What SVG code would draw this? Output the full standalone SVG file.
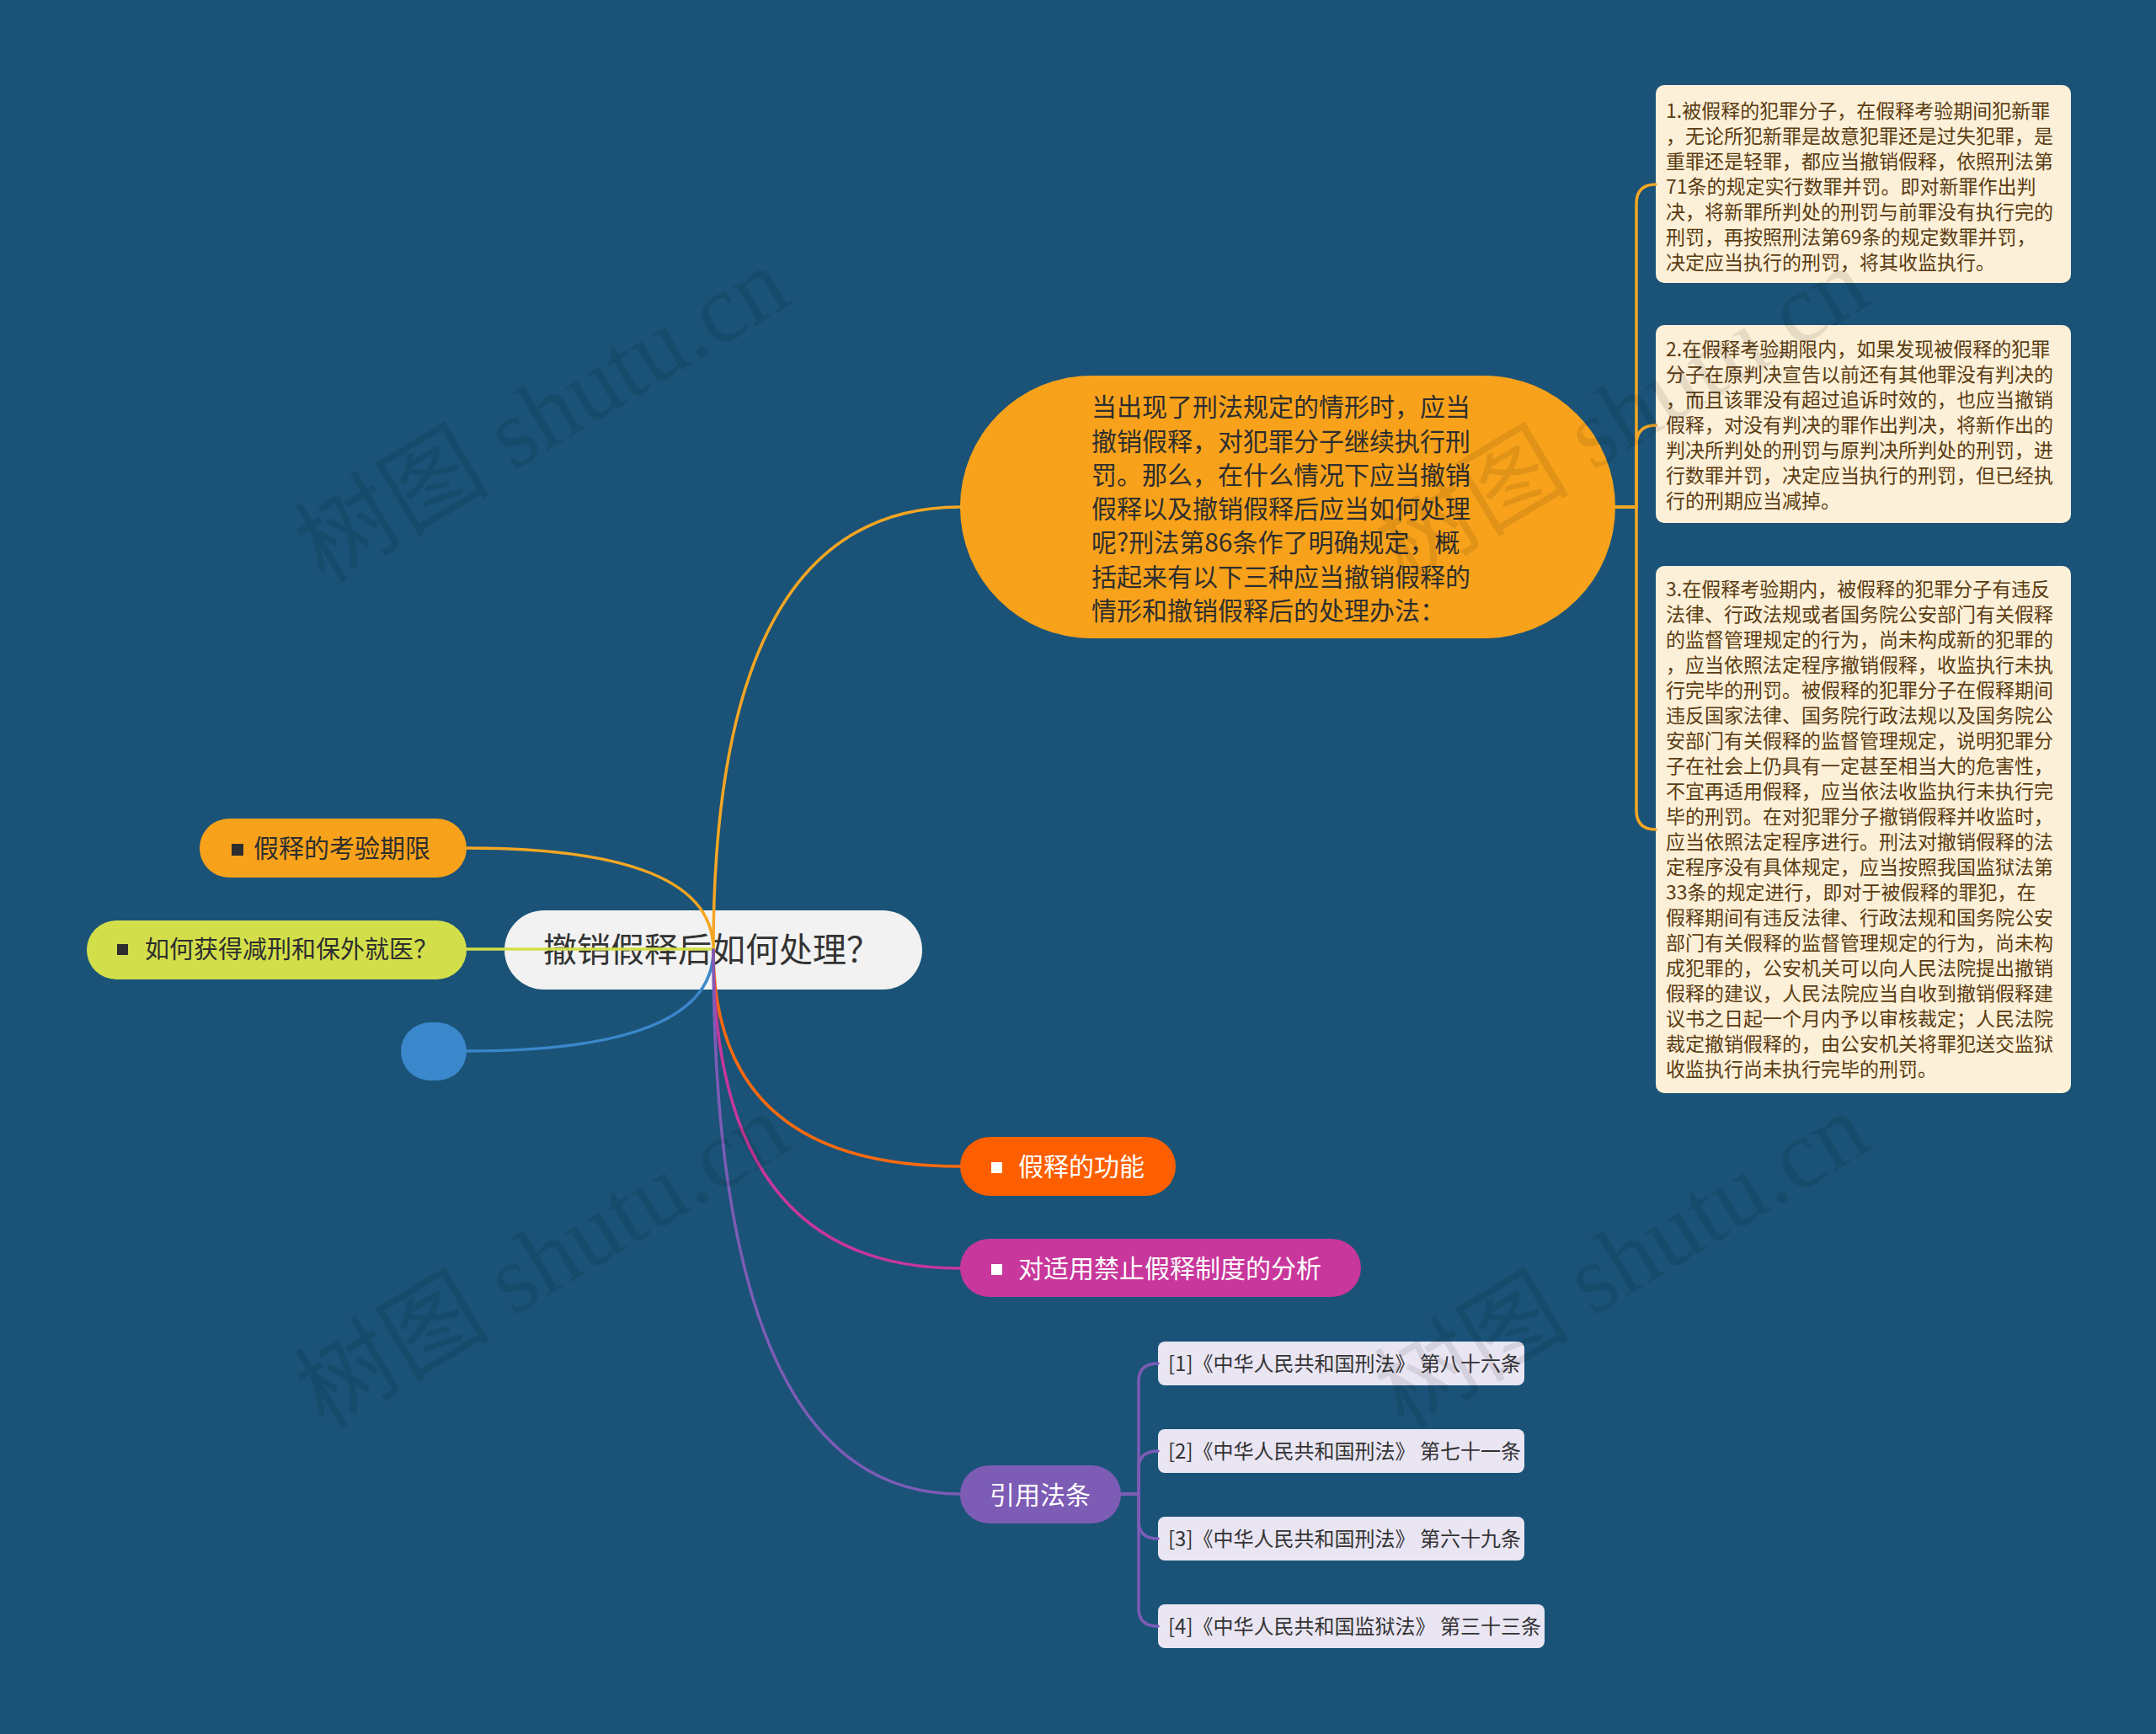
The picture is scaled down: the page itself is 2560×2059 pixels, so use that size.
<svg xmlns="http://www.w3.org/2000/svg" width="2560" height="2059" viewBox="0 0 2560 2059">
<style>
text{font-family:"Noto Sans CJK SC","Noto Sans",sans-serif}
.lnk{fill:none;stroke-width:3.5;stroke-linecap:round}
.dark{fill:#2e2e2e}
.white{fill:#ffffff}
.note{fill:#fdf0d8}
.notetxt{fill:#5a3c12;font-size:23px}
.ref{fill:#e9e5f3}
.reftxt{fill:#333333;font-size:24px}
.lbl{font-size:30px}
.wm{font-family:"Liberation Serif","Noto Sans CJK SC",serif;font-size:116px;fill:#000;fill-opacity:0.09}
</style>
<rect x="0" y="0" width="2560" height="2059" fill="#1a5377"/>

<g id="root">
<rect x="599" y="1081" width="496" height="94" rx="47" fill="#f2f2f2"/>
<text x="645" y="1142" font-size="40" fill="#333333">撤销假释后如何处理？</text>
</g>

<g id="n-intro">
<rect x="1140" y="446" width="778" height="312" rx="156" fill="#f8a21b"/>
<g font-size="30" class="dark">
<text x="1296" y="494">当出现了刑法规定的情形时，应当</text>
<text x="1296" y="535">撤销假释，对犯罪分子继续执行刑</text>
<text x="1296" y="575">罚。那么，在什么情况下应当撤销</text>
<text x="1296" y="615">假释以及撤销假释后应当如何处理</text>
<text x="1296" y="655">呢?刑法第86条作了明确规定，概</text>
<text x="1296" y="696">括起来有以下三种应当撤销假释的</text>
<text x="1296" y="736">情形和撤销假释后的处理办法：</text>
</g>
</g>

<g id="n-note1">
<rect x="1966" y="101" width="493" height="235" rx="10" class="note"/>
<g class="notetxt">
<text x="1978" y="140">1.被假释的犯罪分子，在假释考验期间犯新罪</text>
<text x="1978" y="170">，无论所犯新罪是故意犯罪还是过失犯罪，是</text>
<text x="1978" y="200">重罪还是轻罪，都应当撤销假释，依照刑法第</text>
<text x="1978" y="230">71条的规定实行数罪并罚。即对新罪作出判</text>
<text x="1978" y="260">决，将新罪所判处的刑罚与前罪没有执行完的</text>
<text x="1978" y="290">刑罚，再按照刑法第69条的规定数罪并罚，</text>
<text x="1978" y="320">决定应当执行的刑罚，将其收监执行。</text>
</g>
</g>

<g id="n-note2">
<rect x="1966" y="386" width="493" height="235" rx="10" class="note"/>
<g class="notetxt">
<text x="1978" y="423">2.在假释考验期限内，如果发现被假释的犯罪</text>
<text x="1978" y="453">分子在原判决宣告以前还有其他罪没有判决的</text>
<text x="1978" y="483">，而且该罪没有超过追诉时效的，也应当撤销</text>
<text x="1978" y="513">假释，对没有判决的罪作出判决，将新作出的</text>
<text x="1978" y="543">判决所判处的刑罚与原判决所判处的刑罚，进</text>
<text x="1978" y="573">行数罪并罚，决定应当执行的刑罚，但已经执</text>
<text x="1978" y="603">行的刑期应当减掉。</text>
</g>
</g>

<g id="n-note3">
<rect x="1966" y="672" width="493" height="626" rx="10" class="note"/>
<g class="notetxt">
<text x="1978" y="708">3.在假释考验期内，被假释的犯罪分子有违反</text>
<text x="1978" y="738">法律、行政法规或者国务院公安部门有关假释</text>
<text x="1978" y="768">的监督管理规定的行为，尚未构成新的犯罪的</text>
<text x="1978" y="798">，应当依照法定程序撤销假释，收监执行未执</text>
<text x="1978" y="828">行完毕的刑罚。被假释的犯罪分子在假释期间</text>
<text x="1978" y="858">违反国家法律、国务院行政法规以及国务院公</text>
<text x="1978" y="888">安部门有关假释的监督管理规定，说明犯罪分</text>
<text x="1978" y="918">子在社会上仍具有一定甚至相当大的危害性，</text>
<text x="1978" y="948">不宜再适用假释，应当依法收监执行未执行完</text>
<text x="1978" y="978">毕的刑罚。在对犯罪分子撤销假释并收监时，</text>
<text x="1978" y="1008">应当依照法定程序进行。刑法对撤销假释的法</text>
<text x="1978" y="1038">定程序没有具体规定，应当按照我国监狱法第</text>
<text x="1978" y="1068">33条的规定进行，即对于被假释的罪犯，在</text>
<text x="1978" y="1098">假释期间有违反法律、行政法规和国务院公安</text>
<text x="1978" y="1128">部门有关假释的监督管理规定的行为，尚未构</text>
<text x="1978" y="1158">成犯罪的，公安机关可以向人民法院提出撤销</text>
<text x="1978" y="1188">假释的建议，人民法院应当自收到撤销假释建</text>
<text x="1978" y="1218">议书之日起一个月内予以审核裁定；人民法院</text>
<text x="1978" y="1248">裁定撤销假释的，由公安机关将罪犯送交监狱</text>
<text x="1978" y="1278">收监执行尚未执行完毕的刑罚。</text>
</g>
</g>

<g id="n-function">
<rect x="1140" y="1350" width="256" height="70" rx="35" fill="#fd5f00"/>
<rect x="1177" y="1380" width="13" height="13" class="white"/>
<text x="1209" y="1396" class="lbl white">假释的功能</text>
</g>

<g id="n-analysis">
<rect x="1140" y="1471" width="476" height="69" rx="34.5" fill="#c8379b"/>
<rect x="1177" y="1501" width="13" height="13" class="white"/>
<text x="1209" y="1517" class="lbl white">对适用禁止假释制度的分析</text>
</g>

<g id="n-laws">
<rect x="1140" y="1740" width="191" height="69" rx="34.5" fill="#7d5cb6"/>
<text x="1235" y="1786" class="lbl white" text-anchor="middle">引用法条</text>
</g>

<g id="n-law1">
<rect x="1375" y="1593" width="435" height="52" rx="8" class="ref"/>
<text x="1387" y="1628" class="reftxt">[1]《中华人民共和国刑法》 第八十六条</text>
</g>
<g id="n-law2">
<rect x="1375" y="1697" width="435" height="52" rx="8" class="ref"/>
<text x="1387" y="1732" class="reftxt">[2]《中华人民共和国刑法》 第七十一条</text>
</g>
<g id="n-law3">
<rect x="1375" y="1801" width="435" height="52" rx="8" class="ref"/>
<text x="1387" y="1836" class="reftxt">[3]《中华人民共和国刑法》 第六十九条</text>
</g>
<g id="n-law4">
<rect x="1375" y="1905" width="459" height="52" rx="8" class="ref"/>
<text x="1387" y="1940" class="reftxt">[4]《中华人民共和国监狱法》 第三十三条</text>
</g>

<g id="n-period">
<rect x="237" y="972" width="317" height="70" rx="35" fill="#f8a21b"/>
<rect x="275" y="1002" width="14" height="14" class="dark"/>
<text x="301" y="1018" class="lbl dark">假释的考验期限</text>
</g>

<g id="n-reduce">
<rect x="103" y="1093" width="451" height="70" rx="35" fill="#d3df4a"/>
<rect x="139" y="1121" width="13" height="13" class="dark"/>
<text x="172" y="1138" font-size="29" class="dark">如何获得减刑和保外就医？</text>
</g>

<g id="n-empty">
<rect x="476" y="1214" width="78" height="69" rx="34.5" fill="#3a87cc"/>
</g>

<g id="connectors">
<path class="lnk" stroke="#f5a623" d="M847 1128 Q847 602 1140 602"/>
<path class="lnk" stroke="#f5a623" d="M847 1128 Q847 1007 554 1007"/>
<path class="lnk" stroke="#d3df4a" d="M847 1127 L554 1127"/>
<path class="lnk" stroke="#3a87cc" d="M847 1128 Q847 1248 554 1248"/>
<path class="lnk" stroke="#fd6a10" d="M847 1128 Q847 1385 1140 1385"/>
<path class="lnk" stroke="#c8379b" d="M847 1128 Q847 1506 1140 1506"/>
<path class="lnk" stroke="#7d5cb6" d="M847 1128 Q847 1774 1140 1774"/>
<path class="lnk" stroke="#f5a623" d="M1918 602 H1943 V242 Q1943 219 1966 219"/>
<path class="lnk" stroke="#f5a623" d="M1918 602 H1943 V528 Q1943 505 1966 505"/>
<path class="lnk" stroke="#f5a623" d="M1918 602 H1943 V962 Q1943 985 1966 985"/>
<path class="lnk" stroke="#7d5cb6" d="M1331 1774 H1352 V1640 Q1352 1619 1375 1619"/>
<path class="lnk" stroke="#7d5cb6" d="M1331 1774 H1352 V1744 Q1352 1723 1375 1723"/>
<path class="lnk" stroke="#7d5cb6" d="M1331 1774 H1352 V1806 Q1352 1827 1375 1827"/>
<path class="lnk" stroke="#7d5cb6" d="M1331 1774 H1352 V1910 Q1352 1931 1375 1931"/>
</g>

<g id="watermarks">
<text class="wm" transform="translate(385 694) rotate(-31)">树图 shutu.cn</text>
<text class="wm" transform="translate(1667 694) rotate(-31)">树图 shutu.cn</text>
<text class="wm" transform="translate(385 1698) rotate(-31)">树图 shutu.cn</text>
<text class="wm" transform="translate(1667 1698) rotate(-31)">树图 shutu.cn</text>
</g>
</svg>
